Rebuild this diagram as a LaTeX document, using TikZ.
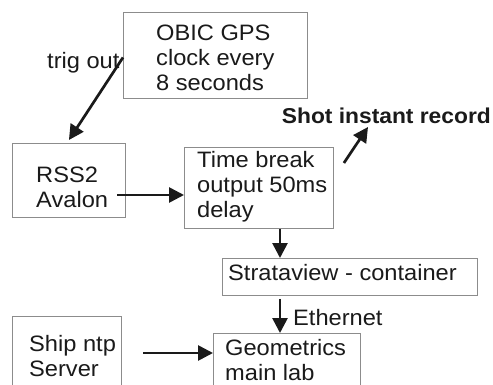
\documentclass[tikz,border=0pt]{standalone}
\usepackage{fontspec}
\setmainfont[FakeStretch=1.06]{Liberation Sans}
\usetikzlibrary{arrows.meta,calc}
\definecolor{ink}{HTML}{1A1A1A}
\definecolor{boxgray}{HTML}{8C8C8C}
\newcommand{\fs}{\fontsize{22.3}{25}\selectfont}
\begin{document}
\begin{tikzpicture}[x=1pt,y=-1pt,
  box/.style={draw=boxgray, line width=0.9pt, inner sep=0pt, anchor=north west},
  txt/.style={align=left, inner sep=0pt, font=\fs, text=ink, anchor=west},
  arr/.style={draw=ink, line width=2.7pt, -{Triangle[length=15pt,width=15pt]}}]
\useasboundingbox (0,0) rectangle (493,385);
\clip (0,0) rectangle (493,385);
\fill[white] (0,0) rectangle (493,385);
% boxes
\node[box, minimum width=184pt, minimum height=86pt] (gps) at (123,12) {};
\node[box, minimum width=113pt, minimum height=74pt] (rss) at (12,143) {};
\node[box, minimum width=149pt, minimum height=81pt] (tb) at (184,147) {};
\node[box, minimum width=255pt, minimum height=37pt] (str) at (222,258) {};
\node[box, minimum width=109pt, minimum height=80pt] (ship) at (12,316) {};
\node[box, minimum width=147pt, minimum height=70pt] (geo) at (213,333) {};
% texts
\node[txt] (gpst) at (156,58) {OBIC GPS\\clock every\\8 seconds};
\node[txt] (rsst) at (36,187) {RSS2\\Avalon};
\node[txt] (tbt) at (197,187) {Time break\\output 50ms\\delay};
\node[txt] (strt) at (228,273) {Strataview - container};
\node[txt] (geot) at (225,360.5) {Geometrics\\main lab};
\node[txt] (shipt) at (29,356.5) {Ship ntp\\Server};
\node[txt] (trig) at (47,63) {trig out};
\node[txt, anchor=east, font=\fontsize{21.5}{25}\selectfont\bfseries] (shot) at (491,116) {Shot instant record};
\node[txt] (eth) at (293,318) {Ethernet};
% connector helper coordinates
\coordinate (ax) at (280,0);
\coordinate (rssout) at (117,195);
\coordinate (shipout) at (143,353);
\coordinate (tbout) at ($(tb.north east)+(10,16)$);
\coordinate (shotin) at (368,127);
% connectors
\draw[arr] ([yshift=-2pt]gps.west) -- ([yshift=3pt]rss.north);
\draw[arr] (rssout) -- (rssout -| tb.west);
\draw[arr] (tbout) -- (shotin);
\draw[arr] (tb.south -| ax) -- (str.north -| ax);
\draw[arr] ([yshift=-3pt]str.south -| ax) -- (geo.north -| ax);
\draw[arr] (shipout) -- (shipout -| geo.west);
\end{tikzpicture}
\end{document}
